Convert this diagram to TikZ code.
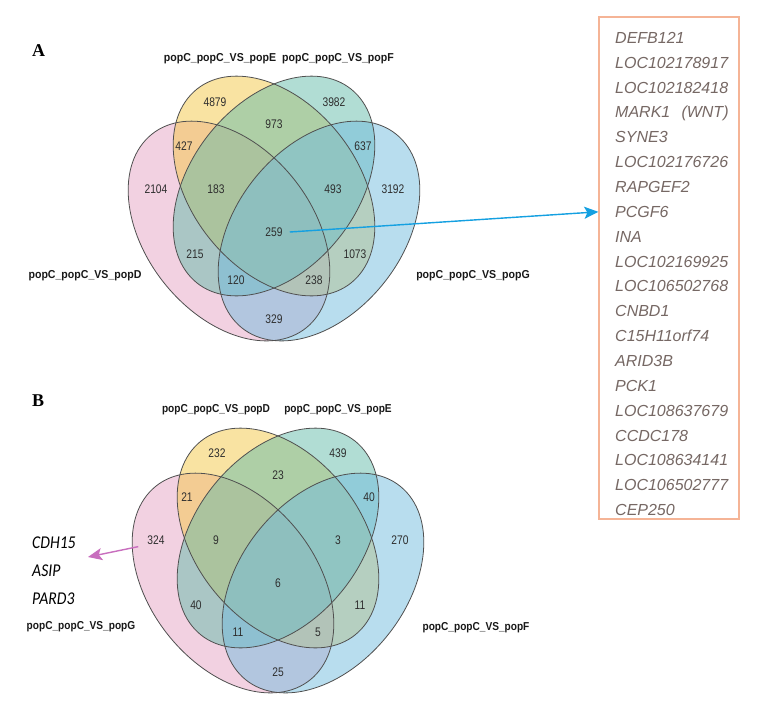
\documentclass[tikz,border=0pt]{standalone}
\usepackage{graphicx}
\usepackage{fontspec}
\setmainfont{Liberation Sans}
\newfontfamily\serifbf{Liberation Serif}
\newfontfamily\calib{Carlito}
\usetikzlibrary{arrows.meta}

\definecolor{cpink}{RGB}{231,165,197}
\definecolor{cyel}{RGB}{245,200,70}
\definecolor{cgrn}{RGB}{100,188,170}
\definecolor{cblu}{RGB}{115,188,222}
\definecolor{edgec}{RGB}{80,80,80}
\definecolor{boxc}{RGB}{245,180,150}
\definecolor{genec}{RGB}{118,104,100}
\definecolor{arrb}{RGB}{20,160,225}
\definecolor{arrp}{RGB}{200,110,190}

\newcommand{\nx}[1]{\scalebox{0.82}[1]{#1}}
\newcommand{\lx}[1]{\scalebox{0.92}[1]{#1}}
\newcommand{\lxb}[1]{\scalebox{0.88}[1]{#1}}
\newcommand{\gx}[1]{\scalebox{0.87}[1]{#1}}

\tikzset{
  num/.style={font=\fontsize{12.5}{14}\selectfont, text=black!82, inner sep=0pt},
  setlab/.style={font=\fontsize{11.5}{13}\selectfont\bfseries, text=black!90, inner sep=0pt},
  panel/.style={font=\fontsize{18}{20}\selectfont\serifbf\bfseries, inner sep=0pt, anchor=base west},
  gene/.style={font=\fontsize{16}{18}\selectfont\itshape, text=genec, inner sep=0pt, anchor=base west},
  geneb/.style={font=\fontsize{18}{20}\selectfont\calib\itshape, text=black, inner sep=0pt, anchor=base west},
  ell/.style={x radius=118pt, y radius=80pt},
  fillop/.style={fill opacity=.5},
  outl/.style={draw=edgec, line width=0.8pt},
  arrA/.style={draw=arrb, line width=1.4pt, -{Stealth[length=14pt,width=12pt,inset=3pt]}},
  arrB/.style={draw=arrp, line width=1.4pt, -{Stealth[length=14pt,width=12pt,inset=3pt]}},
  genebox/.style={draw=boxc, line width=1.3pt, minimum width=140pt, minimum height=502pt, inner sep=0pt}
}

\newcommand{\vennshapes}[2]{%
\begin{scope}[shift={(#1,#2)}, yscale=1.09]
  \fill[cpink, fillop, shift={(-45,41.3)}, rotate=-45] (0,0) ellipse [ell];
  \fill[cyel, fillop, rotate=-45] (0,0) ellipse [ell];
  \fill[cgrn, fillop, rotate=45] (0,0) ellipse [ell];
  \fill[cblu, fillop, shift={(45,41.3)}, rotate=45] (0,0) ellipse [ell];
  \draw[outl, shift={(-45,41.3)}, rotate=-45] (0,0) ellipse [ell];
  \draw[outl, rotate=-45] (0,0) ellipse [ell];
  \draw[outl, rotate=45] (0,0) ellipse [ell];
  \draw[outl, shift={(45,41.3)}, rotate=45] (0,0) ellipse [ell];
\end{scope}}

\begin{document}
\begin{tikzpicture}[x=1pt, y=-1pt]
\fill[white] (0,0) rectangle (764,716);
\path[use as bounding box] (0,0) rectangle (764,716);

% ---------------- Panel A ----------------
\vennshapes{274}{186}
\node[panel] (labA) at (32,56) {A};
\node[setlab] (aE) at (220,59) {\lx{popC\_popC\_VS\_popE}};
\node[setlab] (aF) at (338,59) {\lx{popC\_popC\_VS\_popF}};
\node[setlab] (aD) at (85,276) {\lx{popC\_popC\_VS\_popD}};
\node[setlab] (aG) at (473,276) {\lx{popC\_popC\_VS\_popG}};

\node[num] (a4879) at (215,102) {\nx{4879}};
\node[num] (a3982) at (334,102) {\nx{3982}};
\node[num] (a973) at (274,124) {\nx{973}};
\node[num] (a427) at (184,146) {\nx{427}};
\node[num] (a637) at (363,146) {\nx{637}};
\node[num] (a2104) at (156,189) {\nx{2104}};
\node[num] (a183) at (216,189) {\nx{183}};
\node[num] (a493) at (333,189) {\nx{493}};
\node[num] (a3192) at (393,189) {\nx{3192}};
\node[num] (a259) at (274,232) {\nx{259}};
\node[num] (a215) at (195,254) {\nx{215}};
\node[num] (a1073) at (355,254) {\nx{1073}};
\node[num] (a120) at (236,280) {\nx{120}};
\node[num] (a238) at (314,280) {\nx{238}};
\node[num] (a329) at (274,319) {\nx{329}};

% gene box
\node[genebox] (box) at (669,268) {};
\foreach \g [count=\i] in {DEFB121, LOC102178917, LOC102182418, MARK1\hspace{0.7em}(WNT), SYNE3, LOC102176726, RAPGEF2, PCGF6, INA, LOC102169925, LOC106502768, CNBD1, C15H11orf74, ARID3B, PCK1, LOC108637679, CCDC178, LOC108634141, LOC106502777, CEP250}
  \node[gene] (g\i) at (615,{43.3+24.86*(\i-1)}) {\g};

\draw[arrA] ([xshift=7pt]a259.east) -- (box.west |- g8);

% ---------------- Panel B ----------------
\vennshapes{278}{538}
\node[panel] (labB) at (32,406) {B};
\node[setlab] (bD) at (216,410) {\lxb{popC\_popC\_VS\_popD}};
\node[setlab] (bE) at (338,410) {\lxb{popC\_popC\_VS\_popE}};
\node[setlab] (bG) at (81,627) {\lxb{popC\_popC\_VS\_popG}};
\node[setlab] (bF) at (476,628) {\lxb{popC\_popC\_VS\_popF}};

\node[num] (b232) at (217,453) {\nx{232}};
\node[num] (b439) at (338,453) {\nx{439}};
\node[num] (b23) at (278,475) {\nx{23}};
\node[num] (b21) at (187,497) {\nx{21}};
\node[num] (b40a) at (369,497) {\nx{40}};
\node[num] (b324) at (156,540) {\nx{324}};
\node[num] (b9) at (216,540) {\nx{9}};
\node[num] (b3) at (338,540) {\nx{3}};
\node[num] (b270) at (400,540) {\nx{270}};
\node[num] (b6) at (278,583) {\nx{6}};
\node[num] (b40b) at (196,605) {\nx{40}};
\node[num] (b11a) at (360,605) {\nx{11}};
\node[num] (b11b) at (238,632) {\nx{11}};
\node[num] (b5) at (318,632) {\nx{5}};
\node[num] (b25) at (278,672) {\nx{25}};

\node[geneb] (cdh) at (32,548.3) {\gx{CDH15}};
\node[geneb] (asip) at (32,576.7) {\gx{ASIP}};
\node[geneb] (pard) at (32,604.3) {\gx{PARD3}};
\coordinate (ptip) at (88,557);
\draw[arrB] ([shift={(-9,2)}]b324.south west) -- (ptip);
\end{tikzpicture}
\end{document}
